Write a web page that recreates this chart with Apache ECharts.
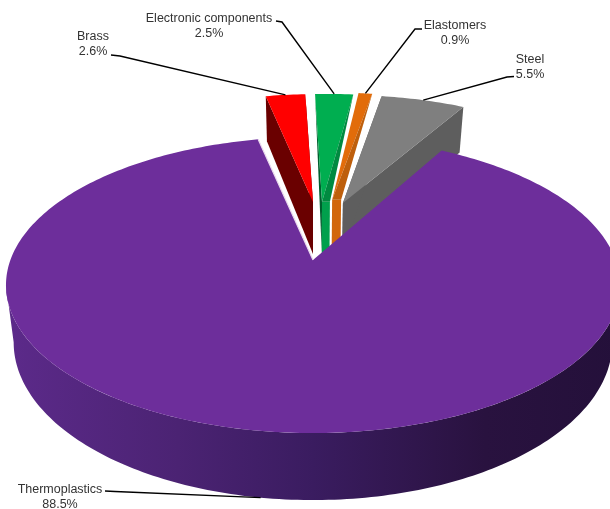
<!DOCTYPE html>
<html><head><meta charset="utf-8">
<script src="https://cdn.jsdelivr.net/npm/echarts@6/dist/echarts.min.js"></script>
<style>html,body{margin:0;padding:0;background:#fff}#c{width:610px;height:509px}</style></head>
<body><div id="c"></div>
<script>
const categories = ['Thermoplastics','Brass','Electronic components','Elastomers','Steel'];
const values = [88.5,2.6,2.5,0.9,5.5];

// 3D projection of the pie (perspective-flattened disc)
const cx=313, cy=260, A=302.6, B=143.8, D=55.7, K=0.169, SHRINK=0.025, START=29.2;
function proj(u,v,z){
  const w=1-K*v;
  return [cx+A*(u/w)*(1-SHRINK*z), cy+B*(v/w)+D*z/w];
}
const looks = {
  'Thermoplastics':{top:'#6D2E9B',z:50,off:[0,0],tip:[0,0],label:[60,482],elbow:[115,491.5],start:[105,491],anchorZ:1},
  'Brass':{top:'#FF0000',wallL:'#6A0000',wallR:'#6A0000',z:10,off:[0.018,-0.433],tip:[-0.018,-0.018],label:[93,29],elbow:[120,56],start:[111,55]},
  'Electronic components':{top:'#00AE50',wallL:'#005F2E',wedge:'#008A40',strip:'#00A04C',z:20,off:[0.058,-0.435],tip:[-0.026,0.002],label:[209,11],elbow:[282,22],start:[276,21]},
  'Elastomers':{top:'#E26C0A',wedge:'#BE5F0C',strip:'#D2660B',z:40,off:[0.08,-0.45],tip:[-0.012,0.02],label:[455,18],elbow:[415,29],start:[422,29]},
  'Steel':{top:'#7F7F7F',wallL:'#5E5E5E',wallR:'#5E5E5E',z:30,off:[0.118,-0.425],tip:[-0.012,-0.012],label:[530,52],elbow:[507,77],start:[514,76.5]}
};
const total = values.reduce((a,b)=>a+b,0);
function range(i){
  let s=START;
  for(let j=0;j<i;j++) s+=values[j]/total*360;
  return [s, s+values[i]/total*360];
}
function rim(off,deg,z){
  const t=deg*Math.PI/180;
  return proj(off[0]+Math.sin(t),off[1]-Math.cos(t),z);
}
function arc(off,a,b,z){
  const pts=[], n=Math.max(6,Math.ceil(Math.abs(b-a)));
  for(let i=0;i<=n;i++) pts.push(rim(off,a+(b-a)*i/n,z));
  return pts;
}
function poly(points,fill,z2){
  return {type:'polygon',shape:{points},z2,silent:true,style:{fill,stroke:null}};
}
function renderItem(params){
  const i=params.dataIndex, name=categories[i], L=looks[name], off=L.off;
  const [a,b]=range(i);
  const apexL=proj(off[0]+L.tip[0],off[1],0), apexR=proj(off[0]+L.tip[1],off[1],0);
  const apexLB=proj(off[0]+L.tip[0],off[1],1), apexRB=proj(off[0]+L.tip[1],off[1],1);
  const ch=[];
  if(i===0){
    // outer wall between the two side extremes of the top ellipse
    const t=arc(off,99.7,260.3,0), bot=arc(off,99.7,260.3,1);
    ch.push(poly(t.concat(bot.reverse()),new echarts.graphic.LinearGradient(1,0,0,0,[
      {offset:0,color:'#24103A'},{offset:0.22,color:'#29123F'},
      {offset:0.5,color:'#3A1C60'},{offset:0.72,color:'#4B2373'},{offset:1,color:'#5C2A8A'}]),L.z));
    ch.push(poly([apexL].concat(arc(off,a,b,0)),L.top,L.z+1));
    ch.push({type:'polyline',silent:true,z2:L.z+2,shape:{points:[rim(off,b,0),apexL]},style:{stroke:'#EBD9EE',lineWidth:1.2,fill:null}});
  } else {
    const ra=rim(off,a,0), rb=rim(off,b,0), ra2=rim(off,a,1), rb2=rim(off,b,1);
    if(L.wallR) ch.push(poly([apexR,rb,rb2,apexRB],L.wallR,L.z));
    if(L.wallL) ch.push(poly(L.wedge?[ra,apexL,apexLB]:[apexL,ra,ra2,apexLB],L.wallL,L.z+1));
    if(L.strip) ch.push(poly([apexL,apexR,apexRB,apexLB],L.strip,L.z+2));
    ch.push(poly([apexL].concat(arc(off,a,b,0)),L.top,L.z+3));
    if(L.wedge) ch.push(poly([rb,apexR,apexL],L.wedge,L.z+4));
  }
  // leader line and label
  const anchor=rim(off,(a+b)/2,L.anchorZ||0);
  ch.push({type:'polyline',silent:true,z2:70,shape:{points:[L.start,L.elbow,anchor]},style:{stroke:'#000',lineWidth:1.4,fill:null}});
  ch.push({type:'text',silent:true,z2:80,x:L.label[0],y:L.label[1],style:{
    text:name+'\n'+values[i]+'%',align:'center',verticalAlign:'top',
    font:'12.5px "Liberation Sans", Arial, sans-serif',fill:'#333',lineHeight:15}});
  return {type:'group',children:ch};
}
const chart=echarts.init(document.getElementById('c'),null,{renderer:'canvas'});
chart.setOption({
  animation:false,
  backgroundColor:'#fff',
  series:[{type:'custom',coordinateSystem:'none',renderItem,silent:true,
    clip:false,data:values.map((v,i)=>({name:categories[i],value:v}))}]
});
</script></body></html>
